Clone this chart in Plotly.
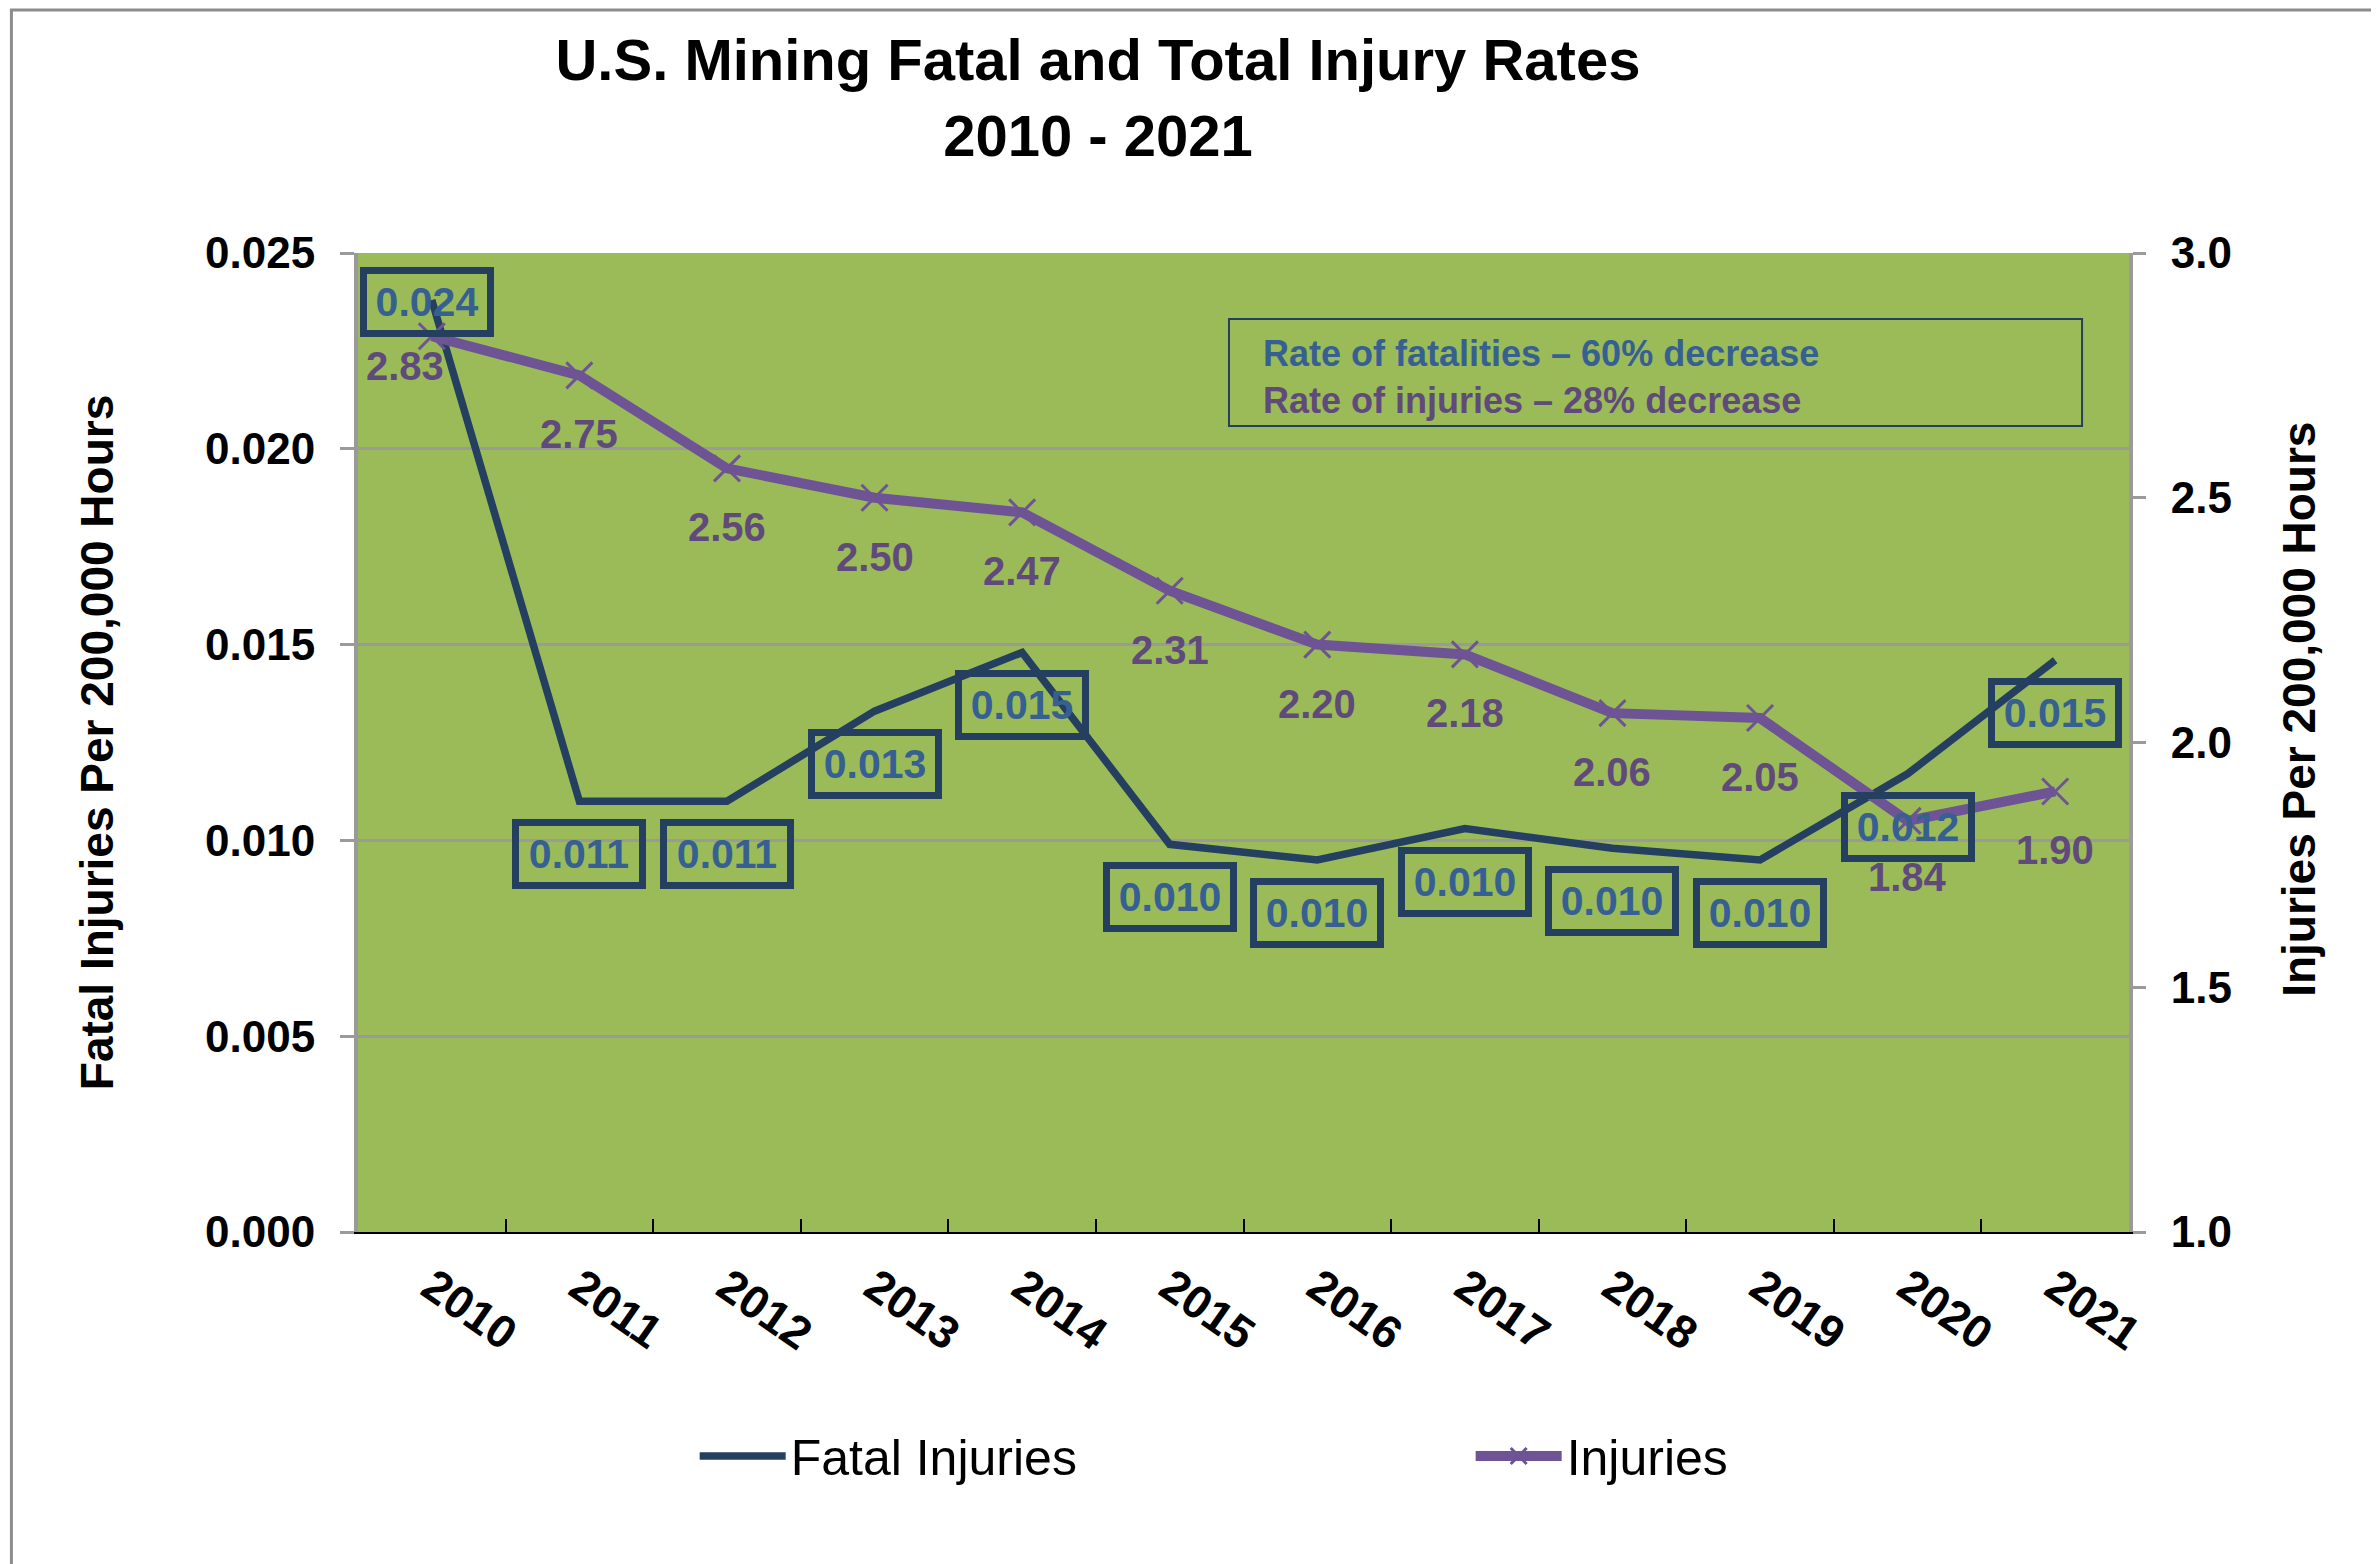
import plotly.graph_objects as go

years = ["2010", "2011", "2012", "2013", "2014", "2015", "2016", "2017", "2018", "2019", "2020", "2021"]
fatal_rates = [0.0238, 0.0110, 0.0110, 0.0133, 0.0148, 0.0099, 0.0095, 0.0103, 0.0098, 0.0095, 0.0117, 0.0146]
fatal_labels = ["0.024", "0.011", "0.011", "0.013", "0.015", "0.010", "0.010", "0.010", "0.010", "0.010", "0.012", "0.015"]
injury_rates = [2.83, 2.75, 2.56, 2.50, 2.47, 2.31, 2.20, 2.18, 2.06, 2.05, 1.84, 1.90]
left_ticks = [0.0, 0.005, 0.010, 0.015, 0.020, 0.025]
right_ticks = [1.0, 1.5, 2.0, 2.5, 3.0]

FONT = "Liberation Sans"
NAVY = "#243F60"
BLUE_TXT = "#376092"
PURPLE = "#6E5494"
PURPLE_TXT = "#604A7B"
GREEN = "#9BBB59"
GRID = "#9A9A9A"

fig = go.Figure()

fig.add_trace(go.Scatter(
    x=years, y=fatal_rates, name="Fatal Injuries", mode="lines",
    line=dict(color=NAVY, width=7.5), yaxis="y"))

fig.add_trace(go.Scatter(
    x=years, y=injury_rates, name="Injuries", mode="lines+markers",
    line=dict(color=PURPLE, width=10),
    marker=dict(symbol="x-thin", size=26, line=dict(color=PURPLE, width=3)),
    yaxis="y2"))

annotations = []
for i, (v, lab) in enumerate(zip(fatal_rates, fatal_labels)):
    annotations.append(dict(
        x=i, y=v, xref="x", yref="y", text=lab, showarrow=False,
        font=dict(family=FONT, size=41, color=BLUE_TXT, weight="bold"),
        bordercolor=NAVY, borderwidth=7, borderpad=5, width=110,
        xshift=-5 if i == 0 else 0, yshift=-2 if i == 0 else -53))

for i, v in enumerate(injury_rates):
    annotations.append(dict(
        x=i, y=v, xref="x", yref="y2", text=f"{v:.2f}", showarrow=False,
        font=dict(family=FONT, size=40, color=PURPLE_TXT, weight="bold"),
        xshift=-27 if i == 0 else 0, yshift=-30 if i == 0 else (-56 if i == 10 else -59)))

annotations.append(dict(
    x=0.5099, y=0.8734, xref="paper", yref="paper", xanchor="left", yanchor="middle",
    align="left", showarrow=False,
    text=(f"<span style='color:{BLUE_TXT}'>Rate of fatalities – 60% decrease</span><br>"
          f"<span style='color:{PURPLE_TXT}'>Rate of injuries – 28% decrease</span>"),
    font=dict(family=FONT, size=36, color=BLUE_TXT, weight="bold")))

# right-axis title
annotations.append(dict(
    x=1.0959, y=0.5342, xref="paper", yref="paper", xanchor="center", yanchor="middle",
    textangle=-90, showarrow=False, text="Injuries Per 200,000 Hours",
    font=dict(family=FONT, size=46, color="black", weight="bold")))

shapes = [
    dict(type="rect", xref="paper", yref="paper", x0=0.4918, x1=0.9735, y0=0.8233, y1=0.9326,
         line=dict(color=NAVY, width=2)),
    dict(type="rect", xref="paper", yref="paper", x0=-0.1957, x1=1.1393, y0=-0.3453, y1=1.2482,
         line=dict(color="#8C8C8C", width=3), layer="below"),
]

fig.update_layout(
    width=2371, height=1556,
    margin=dict(l=350, r=250, t=245, b=332, autoexpand=False),
    paper_bgcolor="white", plot_bgcolor=GREEN,
    font=dict(family=FONT, color="black"),
    title=dict(text="U.S. Mining Fatal and Total Injury Rates<br>2010 - 2021",
               x=0.4597, xref="container", xanchor="center",
               y=0.9535, yref="container", yanchor="middle",
               font=dict(family=FONT, size=58, color="black", weight="bold")),
    xaxis=dict(type="category", range=[-0.5, 11.5], tickson="boundaries", ticks="inside", ticklen=13,
               tickwidth=2, tickcolor="black", showline=True, linecolor="black", linewidth=2,
               showgrid=False, tickangle=35, ticklabelstandoff=8,
               tickfont=dict(family=FONT, size=46, color="black", weight="bold")),
    yaxis=dict(range=[0, 0.025], tickvals=left_ticks, tickformat=".3f",
               ticks="outside", ticklen=14, tickwidth=3, tickcolor=GRID,
               showline=True, linecolor=GRID, linewidth=4,
               showgrid=True, gridcolor=GRID, gridwidth=3, zeroline=False,
               ticklabelstandoff=16,
               tickfont=dict(family=FONT, size=44, color="black", weight="bold"),
               title=dict(text="Fatal Injuries Per 200,000 Hours", standoff=78,
                          font=dict(family=FONT, size=46, color="black", weight="bold"))),
    yaxis2=dict(range=[1, 3], tickvals=right_ticks, tickformat=".1f", overlaying="y", side="right",
                ticks="outside", ticklen=13, tickwidth=3, tickcolor=GRID,
                showline=True, linecolor=GRID, linewidth=4, showgrid=False, zeroline=False,
                ticklabelstandoff=16,
                tickfont=dict(family=FONT, size=44, color="black", weight="bold")),
    showlegend=True,
    legend=dict(orientation="h", x=0.1901, xanchor="left", y=-0.2288, yanchor="middle",
                itemwidth=86, entrywidth=675, entrywidthmode="pixels",
                font=dict(family=FONT, size=50, color="black"), bgcolor="rgba(0,0,0,0)"),
    annotations=annotations, shapes=shapes,
)

fig.write_html("out.html")
